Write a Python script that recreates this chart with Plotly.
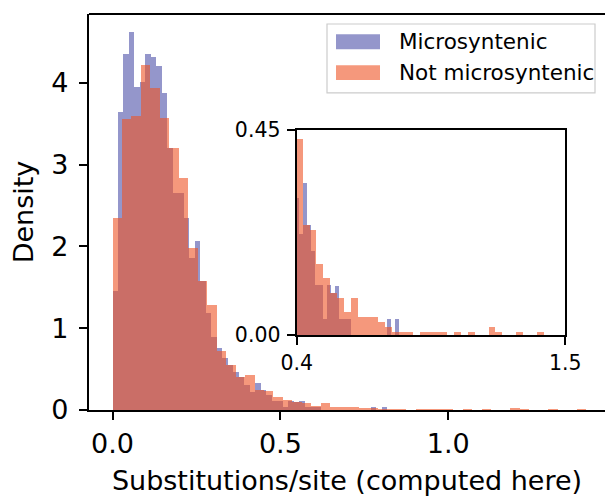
import numpy as np
import plotly.graph_objects as go

# ---------------- data ----------------
series_names = ["Microsyntenic", "Not microsyntenic"]

# Microsyntenic: 50 equal-width bins from 0 to 0.818 (density)
micro_bin_start = 0.0
micro_bin_width = 0.01636
micro_density = [
    1.45, 3.64, 4.35, 4.62, 3.95, 4.01, 4.35, 4.32, 4.20, 3.87,
    3.20, 2.65, 2.65, 2.35, 1.86, 2.07, 1.58, 1.18, 0.89, 0.76,
    0.64, 0.55, 0.47, 0.40, 0.30, 0.222, 0.334, 0.242, 0.185, 0.111,
    0.111, 0.036, 0.111, 0.093, 0.109, 0.036, 0.036, 0.036, 0.0, 0.0,
    0.0, 0.0, 0.0, 0.0, 0.0, 0.0, 0.0, 0.036, 0.0, 0.036,
]

# Not microsyntenic: 50 equal-width bins from 0 to 1.41 (density)
notmicro_bin_start = 0.0
notmicro_bin_width = 0.0282
notmicro_density = [
    2.35, 3.56, 3.60, 4.22, 3.94, 3.57, 3.20, 2.84, 1.98, 1.58,
    1.28, 0.72, 0.55, 0.40, 0.43, 0.242, 0.231, 0.157, 0.126, 0.093,
    0.082, 0.052, 0.082, 0.041, 0.041, 0.041, 0.030, 0.019, 0.008, 0.008,
    0.008, 0.0, 0.008, 0.008, 0.008, 0.008, 0.0, 0.008, 0.0, 0.008,
    0.0, 0.0, 0.019, 0.008, 0.0, 0.0, 0.008, 0.0, 0.0, 0.008,
]

main_x_ticks = [0.0, 0.5, 1.0]
main_y_ticks = [0, 1, 2, 3, 4]
inset_x_ticks = [0.4, 1.5]
inset_y_ticks = [0.00, 0.45]
x_title = "Substitutions/site (computed here)"
y_title = "Density"

# ---------------- styling ----------------
W, H = 605, 496
FONT = "DejaVu Sans"
BLUE = "rgba(77,80,168,0.6)"
ORANGE = "rgba(238,83,37,0.6)"

# plot area in pixels
L, R_EDGE, T, B_EDGE = 89, 605, 14, 410.5
pw, ph = R_EDGE - L, B_EDGE - T

def dom_x(px):
    return (px - L) / pw

def dom_y(py):
    return (B_EDGE - py) / ph

def lefts(start, width, n):
    return start + width * np.arange(n)

mx = lefts(micro_bin_start, micro_bin_width, len(micro_density))
nx = lefts(notmicro_bin_start, notmicro_bin_width, len(notmicro_density))

fig = go.Figure()
for xa, ya in [("x", "y"), ("x2", "y2")]:
    fig.add_trace(go.Bar(
        x=mx, y=micro_density, width=micro_bin_width, offset=0,
        marker=dict(color=BLUE, line=dict(width=0)),
        name=series_names[0], showlegend=False, xaxis=xa, yaxis=ya,
    ))
    fig.add_trace(go.Bar(
        x=nx, y=notmicro_density, width=notmicro_bin_width, offset=0,
        marker=dict(color=ORANGE, line=dict(width=0)),
        name=series_names[1], showlegend=False, xaxis=xa, yaxis=ya,
    ))

# main axes
x0_px, x_scale = 112.5, 335.8
xmin = (L - x0_px) / x_scale
xmax = (R_EDGE - x0_px) / x_scale
ymax = (B_EDGE - T) / 81.9

axis_common = dict(
    showgrid=False, zeroline=False, showline=True, linecolor="black", linewidth=2.2,
    ticks="outside", ticklen=8, tickwidth=2.2, tickcolor="black", automargin=False,
)

fig.update_layout(
    width=W, height=H, autosize=False,
    margin=dict(l=L, r=W - R_EDGE, t=T, b=H - B_EDGE, pad=0),
    paper_bgcolor="white", plot_bgcolor="white",
    barmode="overlay", bargap=0, showlegend=False,
    font=dict(family=FONT, color="black"),
    xaxis=dict(
        **axis_common, range=[xmin, xmax], domain=[0, 1],
        tickvals=main_x_ticks, ticktext=[f"{v:.1f}" for v in main_x_ticks],
        tickfont=dict(size=27, family=FONT), mirror=False,
        title=dict(text=x_title, font=dict(size=27, family=FONT), standoff=16),
    ),
    yaxis=dict(
        **axis_common, range=[0, ymax], domain=[0, 1],
        tickvals=main_y_ticks, ticktext=[str(v) for v in main_y_ticks],
        tickfont=dict(size=27, family=FONT), ticklabelstandoff=5,
        title=dict(text=y_title, font=dict(size=27, family=FONT), standoff=10),
    ),
    xaxis2=dict(
        **axis_common, range=[0.4, 1.5], anchor="y2",
        domain=[dom_x(296.7), dom_x(565.3)], mirror=True,
        tickvals=inset_x_ticks, ticktext=[f"{v:.1f}" for v in inset_x_ticks],
        tickfont=dict(size=20.5, family=FONT),
    ),
    yaxis2=dict(
        **axis_common, range=[0, 0.45], anchor="x2",
        domain=[dom_y(335.7), dom_y(130)], mirror=True,
        tickvals=inset_y_ticks, ticktext=[f"{v:.2f}" for v in inset_y_ticks],
        tickfont=dict(size=20.5, family=FONT), ticklabelstandoff=2,
    ),
)

# top spine of main axes (no right spine visible in the reference)
fig.add_shape(type="line", xref="paper", yref="paper", x0=0, x1=1, y0=1, y1=1,
              line=dict(color="black", width=2.2))

# legend drawn by hand
lx0, lx1, ly0, ly1 = 327, 595, 24, 93
fig.add_shape(type="rect", xref="paper", yref="paper",
              x0=dom_x(lx0), x1=dom_x(lx1), y0=dom_y(ly1), y1=dom_y(ly0),
              line=dict(color="#cccccc", width=1.2), fillcolor="rgba(255,255,255,0.8)")
for i, (name, col) in enumerate(zip(series_names, [BLUE, ORANGE])):
    cy = 41.7 + 31 * i
    fig.add_shape(type="rect", xref="paper", yref="paper",
                  x0=dom_x(336), x1=dom_x(380), y0=dom_y(cy + 7.5), y1=dom_y(cy - 7.5),
                  line=dict(width=0), fillcolor=col)
    fig.add_annotation(xref="paper", yref="paper", x=dom_x(397), y=dom_y(cy),
                       text=name, showarrow=False, xanchor="left", yanchor="middle",
                       font=dict(size=21.5, family=FONT, color="black"))

fig.write_html("out.html")
